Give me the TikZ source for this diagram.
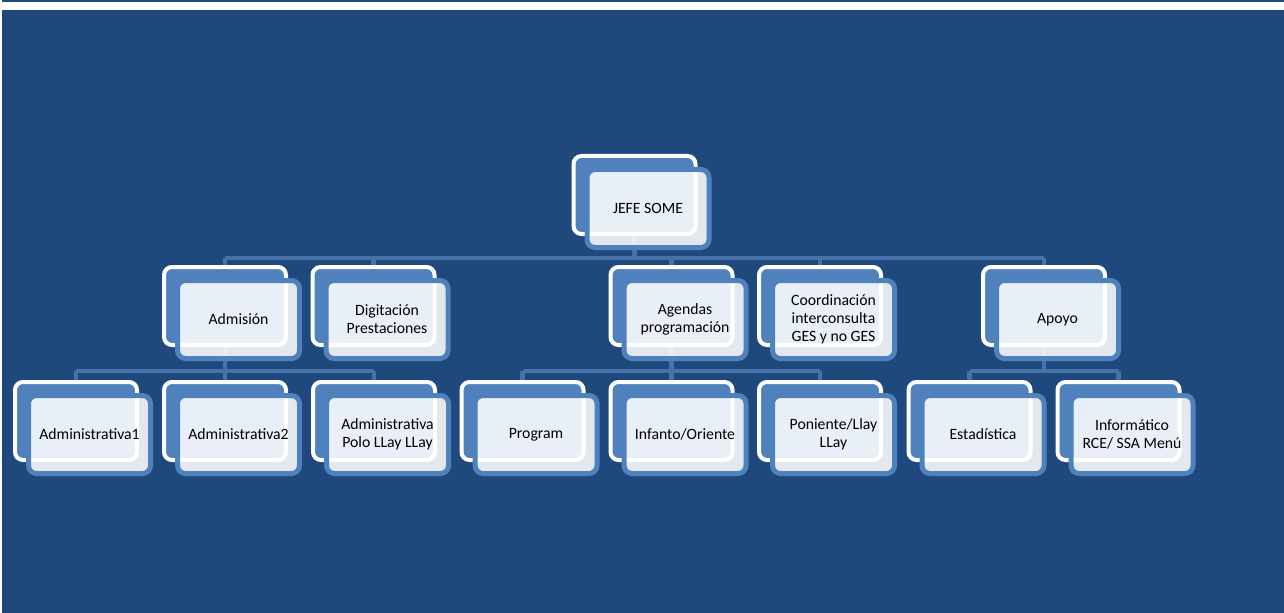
\documentclass[tikz,border=0pt]{standalone}
\usepackage{fontspec}
\setmainfont{Carlito}
\definecolor{slide}{HTML}{1F497D}
\definecolor{accent}{HTML}{4F81BD}
\definecolor{wire}{HTML}{4672A9}
\pgfdeclarelayer{back}
\pgfsetlayers{back,main}

\begin{document}
\begin{tikzpicture}[
    x=0.75pt, y=-0.75pt,
    font=\fontsize{11.8}{13.3}\selectfont,
    backbox/.style={draw=white, line width=3pt, fill=accent, rounded corners=6pt,
        minimum width=91.5pt, minimum height=58.5pt},
    frontbox/.style={draw=accent, line width=3.75pt, fill=white, fill opacity=0.88,
        text opacity=1, rounded corners=6pt, minimum width=91.5pt, minimum height=58.5pt,
        align=center, xshift=10.125pt, yshift=-10.125pt},
    link/.style={draw=wire, line width=3.5pt}
]
\useasboundingbox (0,0) rectangle (1284,613);

% level 1
\node[backbox] (jefe-b) at (634.5,195) {};
\node[frontbox] (jefe) at (jefe-b) {JEFE SOME};

% level 2
\node[backbox] (adm-b) at (225,306) {};
\node[frontbox] (adm) at (adm-b) {Admisión};
\node[backbox] (dig-b) at (373.5,306) {};
\node[frontbox] (dig) at (dig-b) {Digitación\\Prestaciones};
\node[backbox] (age-b) at (671.5,306) {};
\node[frontbox] (age) at (age-b) {Agendas\\programación};
\node[backbox] (coo-b) at (820,306) {};
\node[frontbox] (coo) at (coo-b) {Coordinación\\interconsulta\\GES y no GES};
\node[backbox] (apo-b) at (1044,306) {};
\node[frontbox] (apo) at (apo-b) {Apoyo};

% level 3
\node[backbox] (adm1-b) at (76,421) {};
\node[frontbox] (adm1) at (adm1-b) {Administrativa1};
\node[backbox] (adm2-b) at (225,421) {};
\node[frontbox] (adm2) at (adm2-b) {Administrativa2};
\node[backbox] (pol-b) at (374,421) {};
\node[frontbox] (pol) at (pol-b) {Administrativa\\Polo LLay LLay};
\node[backbox] (pro-b) at (522.5,421) {};
\node[frontbox] (pro) at (pro-b) {Program};
\node[backbox] (inf-b) at (671.5,421) {};
\node[frontbox] (inf) at (inf-b) {Infanto/Oriente};
\node[backbox] (pon-b) at (820,421) {};
\node[frontbox] (pon) at (pon-b) {Poniente/Llay\\LLay};
\node[backbox] (est-b) at (969.5,421) {};
\node[frontbox] (est) at (est-b) {Estadística};
\node[backbox] (info-b) at (1118.5,421) {};
\node[frontbox] (info) at (info-b) {Informático\\RCE/ SSA Menú};

\coordinate (bus1) at (634.5,258);
\coordinate (bus2) at (0,371);

\begin{pgfonlayer}{back}
% slide
\fill[slide] (2,0) rectangle (1284,2);
\fill[slide] (2,10) rectangle (1284,613);

\path[link]
    (jefe-b.center) -- (bus1)
    (adm-b.center |- bus1) -- (apo-b.center |- bus1)
    (adm-b.center |- bus1) -- (adm-b.center)
    (dig-b.center |- bus1) -- (dig-b.center)
    (age-b.center |- bus1) -- (age-b.center)
    (coo-b.center |- bus1) -- (coo-b.center)
    (apo-b.center |- bus1) -- (apo-b.center)
    ;

\path[link]
    (adm-b.center) -- (adm-b.center |- bus2)
    (adm1-b.center |- bus2) -- (pol-b.center |- bus2)
    (adm1-b.center |- bus2) -- (adm1-b.center)
    (adm2-b.center |- bus2) -- (adm2-b.center)
    (pol-b.center |- bus2) -- (pol-b.center)
    (age-b.center) -- (age-b.center |- bus2)
    (pro-b.center |- bus2) -- (pon-b.center |- bus2)
    (pro-b.center |- bus2) -- (pro-b.center)
    (inf-b.center |- bus2) -- (inf-b.center)
    (pon-b.center |- bus2) -- (pon-b.center)
    (apo-b.center) -- (apo-b.center |- bus2)
    (est-b.center |- bus2) -- (info-b.center |- bus2)
    (est-b.center |- bus2) -- (est-b.center)
    (info-b.center |- bus2) -- (info-b.center)
    ;
\end{pgfonlayer}

\end{tikzpicture}
\end{document}
